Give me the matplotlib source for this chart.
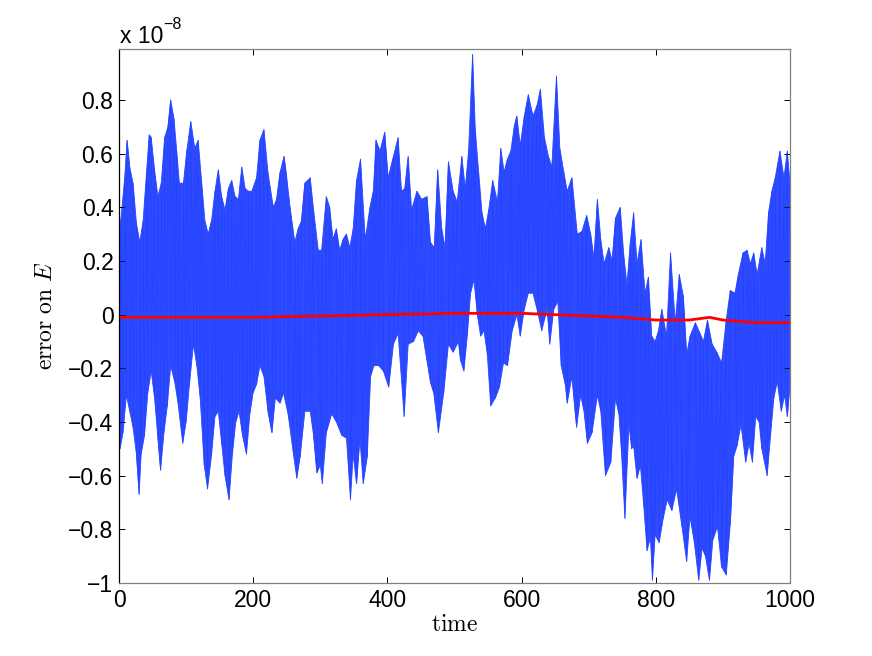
import numpy as np
import matplotlib
matplotlib.use("Agg")
import matplotlib.pyplot as plt

# values, in units of 1e-8
# upper envelope of the blue trace
t_hi = [0, 3, 8.5, 12, 16, 21, 26, 31, 36, 41, 45, 48, 53, 58, 63, 68, 73, 77, 82, 86,
        90, 96, 101, 107, 113, 118, 123, 128, 133, 138, 143, 148, 153, 158, 163, 168, 173,
        178, 183, 188, 193, 198, 205, 210, 216, 222, 230, 235, 240, 246, 250, 255, 262,
        267, 272, 277, 285, 290, 297, 302, 309, 314, 319, 324, 329, 334, 339, 344, 349,
        354, 360, 367, 374, 379, 383, 389, 396, 401, 409, 416, 421, 426, 431, 436, 444,
        451, 459, 464, 470, 475, 481, 486, 491, 498, 504, 511, 516, 521, 527, 531, 536,
        541, 546, 551, 557, 564, 569, 574, 579, 584, 589, 593, 598, 604, 610, 617, 623,
        628, 634, 640, 645, 652, 657, 663, 668, 675, 683, 690, 697, 703, 708, 713, 718,
        723, 730, 735, 740, 747, 752, 757, 762, 767, 772, 778, 784, 789, 794, 799, 804,
        809, 816, 822, 829, 835, 841, 846, 851, 859, 866, 871, 877, 884, 891, 898, 905,
        911, 918, 923, 930, 936, 941, 946, 951, 958, 963, 968, 973, 978, 985, 991, 996, 1000]
e_hi = [0.28, 0.36, 0.51, 0.65, 0.55, 0.49, 0.34, 0.27, 0.35, 0.53, 0.67, 0.66, 0.54, 0.44,
        0.49, 0.66, 0.70, 0.80, 0.73, 0.61, 0.49, 0.49, 0.61, 0.72, 0.62, 0.65, 0.50, 0.35,
        0.30, 0.35, 0.46, 0.54, 0.44, 0.39, 0.47, 0.50, 0.44, 0.43, 0.55, 0.47, 0.46, 0.46,
        0.51, 0.65, 0.69, 0.53, 0.40, 0.43, 0.53, 0.59, 0.51, 0.40, 0.27, 0.32, 0.35, 0.49,
        0.51, 0.39, 0.24, 0.24, 0.44, 0.40, 0.28, 0.32, 0.24, 0.28, 0.30, 0.25, 0.32, 0.50,
        0.58, 0.28, 0.40, 0.46, 0.65, 0.61, 0.68, 0.51, 0.59, 0.66, 0.46, 0.47, 0.59, 0.39,
        0.46, 0.43, 0.44, 0.27, 0.25, 0.54, 0.32, 0.25, 0.57, 0.46, 0.42, 0.59, 0.47, 0.61,
        0.97, 0.69, 0.53, 0.38, 0.32, 0.39, 0.50, 0.42, 0.62, 0.53, 0.58, 0.61, 0.70, 0.74,
        0.63, 0.74, 0.82, 0.74, 0.78, 0.84, 0.66, 0.59, 0.55, 0.89, 0.62, 0.53, 0.46, 0.51,
        0.30, 0.31, 0.37, 0.30, 0.21, 0.43, 0.28, 0.19, 0.25, 0.20, 0.36, 0.40, 0.23, 0.11,
        0.27, 0.38, 0.19, 0.28, 0.08, 0.14, -0.08, -0.10, -0.06, 0.02, -0.08, 0.23, -0.03,
        0.15, 0.07, -0.15, -0.08, -0.03, -0.07, -0.10, -0.02, -0.11, -0.14, -0.18, -0.02,
        0.09, 0.08, 0.15, 0.23, 0.24, 0.19, 0.23, 0.15, 0.25, 0.19, 0.38, 0.46, 0.51, 0.61,
        0.51, 0.61, 0.49]

# lower envelope of the blue trace
t_lo = [1.5, 6, 11, 16, 21, 26, 30, 33, 38, 43, 48, 53, 58, 62, 67, 72, 77, 83, 88, 95,
        100, 105, 111, 116, 121, 127, 132, 138, 143, 148, 153, 158, 164, 169, 174, 179,
        184, 190, 195, 200, 205, 210, 216, 222, 228, 233, 240, 245, 252, 260, 265, 270,
        277, 285, 290, 295, 300, 303, 309, 317, 324, 332, 339, 345, 349, 354, 359, 364,
        370, 375, 380, 387, 394, 402, 409, 416, 425, 431, 439, 446, 453, 464, 469, 476,
        484, 491, 498, 506, 509, 514, 519, 524, 529, 534, 539, 544, 549, 554, 561, 567,
        573, 579, 586, 593, 598, 604, 610, 617, 624, 630, 638, 642, 648, 654, 659, 665,
        668, 675, 682, 688, 693, 698, 705, 713, 718, 725, 733, 740, 745, 749, 754, 760,
        764, 767, 772, 777, 782, 787, 792, 795, 799, 805, 811, 817, 824, 831, 839, 846,
        851, 857, 864, 869, 874, 880, 885, 892, 898, 905, 911, 916, 921, 927, 934, 939,
        944, 949, 954, 958, 966, 971, 976, 981, 987, 992, 996, 999]
e_lo = [-0.50, -0.44, -0.30, -0.36, -0.42, -0.52, -0.67, -0.52, -0.45, -0.29, -0.21, -0.31,
        -0.46, -0.58, -0.44, -0.34, -0.19, -0.25, -0.33, -0.48, -0.40, -0.26, -0.11, -0.19,
        -0.31, -0.56, -0.65, -0.52, -0.38, -0.36, -0.48, -0.60, -0.69, -0.52, -0.40, -0.36,
        -0.45, -0.52, -0.37, -0.29, -0.26, -0.19, -0.23, -0.36, -0.44, -0.31, -0.33, -0.29,
        -0.37, -0.52, -0.61, -0.53, -0.36, -0.36, -0.45, -0.59, -0.56, -0.63, -0.44, -0.37,
        -0.40, -0.45, -0.46, -0.69, -0.52, -0.63, -0.46, -0.63, -0.53, -0.23, -0.19, -0.19,
        -0.21, -0.27, -0.11, -0.07, -0.38, -0.11, -0.10, -0.06, -0.08, -0.25, -0.29, -0.44,
        -0.29, -0.11, -0.14, -0.10, -0.17, -0.21, -0.08, 0.08, 0.13, 0.00, -0.08, -0.06,
        -0.15, -0.34, -0.31, -0.27, -0.18, -0.19, -0.06, 0.00, -0.08, 0.02, 0.08, 0.08,
        0.01, -0.06, 0.02, -0.11, 0.02, 0.05, -0.19, -0.26, -0.33, -0.23, -0.42, -0.30,
        -0.36, -0.48, -0.44, -0.30, -0.36, -0.60, -0.55, -0.31, -0.37, -0.52, -0.76, -0.41,
        -0.50, -0.49, -0.61, -0.56, -0.71, -0.88, -0.83, -0.99, -0.82, -0.85, -0.76, -0.69,
        -0.73, -0.65, -0.79, -0.92, -0.75, -0.84, -0.99, -0.87, -0.90, -0.99, -0.84, -0.79,
        -0.94, -0.97, -0.78, -0.53, -0.49, -0.41, -0.55, -0.48, -0.55, -0.38, -0.40, -0.50,
        -0.60, -0.45, -0.31, -0.25, -0.36, -0.30, -0.38, -0.29]

# red trace (second scheme), nearly flat
t_red = [0, 100, 200, 300, 400, 500, 600, 650, 700, 750, 800, 850, 880, 900, 950, 1000]
e_red = [-0.01, -0.01, -0.01, -0.005, 0.0, 0.005, 0.005, 0.0, -0.005, -0.01, -0.02, -0.02,
         -0.01, -0.02, -0.03, -0.03]

yticks = [-1, -0.8, -0.6, -0.4, -0.2, 0, 0.2, 0.4, 0.6, 0.8]
ytick_labels = ["\u22121" if v == -1 else ("0" if v == 0 else f"{v:.1f}".replace("-", "\u2212"))
                for v in yticks]
xticks = [0, 200, 400, 600, 800, 1000]

BLUE = "#2241ff"

# merge the two envelopes into one zig-zag trace
t_all = np.array(t_hi + t_lo, dtype=float)
e_all = np.array(e_hi + e_lo, dtype=float)
order = np.argsort(t_all, kind="stable")
t_blue, e_blue = t_all[order], e_all[order]

# closed outline: along the upper envelope, back along the lower one
poly_t = t_hi + t_lo[::-1]
poly_e = e_hi + e_lo[::-1]

plt.rcParams["font.family"] = ["Liberation Sans", "DejaVu Sans"]
plt.rcParams["mathtext.fontset"] = "cm"

fig = plt.figure(figsize=(8.72, 6.56), dpi=100)
ax = fig.add_axes([119 / 872, 1 - 583 / 656, (790 - 119) / 872, (583 - 49) / 656])

ax.fill(poly_t, poly_e, color=BLUE, lw=0.6, alpha=0.95)
ax.plot(t_blue, e_blue, color=BLUE, lw=0.6, alpha=0.7)
ax.plot(t_red, e_red, color="#ff0000", lw=2.0)

ax.set_xlim(0, 1000)
ax.set_ylim(-1, 0.99)
ax.set_xticks(xticks)
ax.set_xticklabels([str(v) for v in xticks])
ax.set_yticks(yticks)
ax.set_yticklabels(ytick_labels)
ax.tick_params(direction="in", length=4.5, width=0.7, labelsize=16.5, top=True, right=True,
               pad=4)
for side, sp in ax.spines.items():
    sp.set_linewidth(0.9)
    sp.set_color("black" if side == "left" else "#808080")

ax.set_xlabel(r"$\mathrm{time}$", fontsize=17, labelpad=2)
ax.set_ylabel(r"$\mathrm{error\ on\ }E$", fontsize=17, labelpad=8)

# MATLAB style exponent label
fig.text(120 / 872, 1 - 43 / 656, "x 10", fontsize=16.5, ha="left", va="baseline")
fig.text(163 / 872, 1 - 29 / 656, "\u22128", fontsize=11.5, ha="left", va="baseline")

fig.savefig("out.png", dpi=100)
